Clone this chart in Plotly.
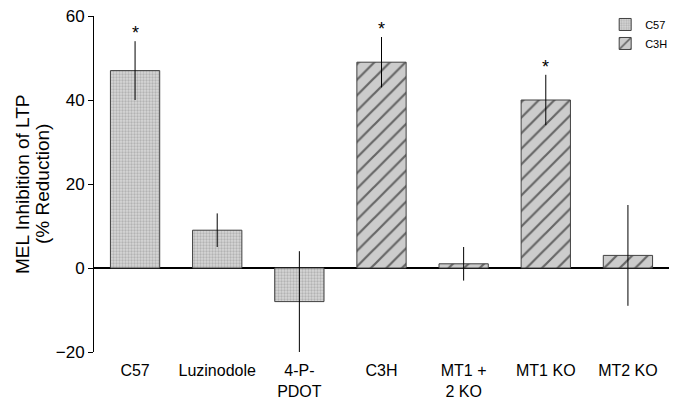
import plotly.graph_objects as go

# Data
categories = ["C57", "Luzinodole", "4-P-<br>PDOT", "C3H", "MT1 +<br>2 KO", "MT1 KO", "MT2 KO"]
c57_categories = ["C57", "Luzinodole", "4-P-<br>PDOT"]
c57_values = [47, 9, -8]
c57_errors = [7, 4, 12]
c3h_categories = ["C3H", "MT1 +<br>2 KO", "MT1 KO", "MT2 KO"]
c3h_values = [49, 1, 40, 3]
c3h_errors = [6, 4, 6, 12]
significant = ["C57", "C3H", "MT1 KO"]
y_ticks = [-20, 0, 20, 40, 60]
y_title_lines = ["MEL Inhibition of LTP", "(% Reduction)"]

FONT = "Liberation Sans, Arial, sans-serif"

fig = go.Figure()
fig.add_trace(go.Bar(
    name="C57", x=c57_categories, y=c57_values, width=0.6,
    marker=dict(color="#d0d0d0", line=dict(color="#404040", width=1),
                pattern=dict(shape=".", fgcolor="#909090", bgcolor="#d6d6d6",
                             size=3, solidity=0.45)),
    error_y=dict(type="data", array=c57_errors, color="black", thickness=1, width=0),
))
fig.add_trace(go.Bar(
    name="C3H", x=c3h_categories, y=c3h_values, width=0.6,
    marker=dict(color="#c8c8c8", line=dict(color="#404040", width=1),
                pattern=dict(shape="/", fgcolor="#000000", bgcolor="#cccccc",
                             size=11, solidity=0.2)),
    error_y=dict(type="data", array=c3h_errors, color="black", thickness=1, width=0),
))

all_vals = dict(zip(c57_categories + c3h_categories, c57_values + c3h_values))
all_errs = dict(zip(c57_categories + c3h_categories, c57_errors + c3h_errors))
for cat in significant:
    fig.add_annotation(x=cat, y=all_vals[cat] + all_errs[cat], text="*",
                       showarrow=False, yanchor="bottom", yshift=-4,
                       font=dict(size=18, color="black", family=FONT))

# y-axis title, two rotated lines
for line, shift in zip(y_title_lines, [-72, -52]):
    fig.add_annotation(xref="paper", yref="paper", x=0, y=0.5, xshift=shift,
                       text=line, textangle=-90, showarrow=False,
                       xanchor="center", yanchor="middle",
                       font=dict(size=19, color="black", family=FONT))

fig.update_layout(
    width=682, height=399,
    margin=dict(l=94, r=13, t=16, b=47, autoexpand=False),
    plot_bgcolor="white", paper_bgcolor="white",
    barmode="overlay", showlegend=True,
    font=dict(family=FONT, color="black", size=16),
    legend=dict(x=0.889, y=0.975, xref="paper", yref="container",
                xanchor="left", yanchor="top",
                font=dict(size=11, family=FONT), bgcolor="rgba(0,0,0,0)",
                tracegroupgap=2),
)
fig.update_xaxes(type="category", categoryorder="array", categoryarray=categories,
                 range=[-0.5, 6.5], showline=False, ticks="", showgrid=False,
                 tickfont=dict(size=16), ticklabelstandoff=7, automargin=False)
fig.update_yaxes(range=[-20, 60], tickvals=y_ticks, showline=True, linecolor="black",
                 linewidth=1, ticks="outside", ticklen=5, tickcolor="black",
                 showgrid=False, zeroline=True, zerolinecolor="black", zerolinewidth=1.5,
                 tickfont=dict(size=17), automargin=False)

fig.write_html("out.html")
